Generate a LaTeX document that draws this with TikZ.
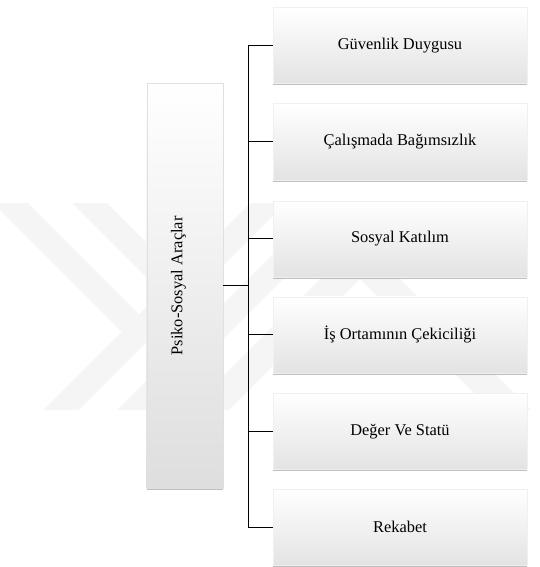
\documentclass[tikz,border=0pt]{standalone}
\usepackage{fontspec}
\setmainfont{Liberation Serif}
\usetikzlibrary{shadows}
\begin{document}
\begin{tikzpicture}[x=1pt,y=-1pt,
  itembox/.style={rectangle, minimum width=253.4pt, minimum height=76pt,
    inner sep=0pt, outer sep=0pt, top color=white, bottom color=black!11,
    draw=black!6,
    drop shadow={shadow xshift=0pt, shadow yshift=-2pt, fill=black!50, opacity=0.5},
    font=\fontsize{16.4}{19}\selectfont},
  mainbox/.style={rectangle, minimum width=76pt, minimum height=405pt,
    inner sep=0pt, outer sep=0pt, top color=white, bottom color=black!13,
    draw=black!12,
    drop shadow={shadow xshift=0pt, shadow yshift=-2pt, fill=black!50, opacity=0.5}},
  maintext/.style={rotate=90, inner sep=0pt, font=\fontsize{16.4}{19}\selectfont},
  link/.style={line width=1.1pt, draw=black},
  wm/.style={fill=black!4}
]
\useasboundingbox (0,0) rectangle (540,567);

% faint background watermark
\begin{scope}
  \clip (0,203) rectangle (540,410);
  \fill[wm] (-7,203) -- (28,203) -- (139.2,314.2) -- (121.7,331.7) -- cycle;
  \fill[wm] (250.4,203) -- (285.4,203) -- (78.4,410) -- (43.4,410) -- cycle;
  \fill[wm] (72,203) -- (107,203) -- (219,315) -- (198,329) -- cycle;
  \fill[wm] (324,203) -- (359,203) -- (152,410) -- (117,410) -- cycle;
  \fill[wm] (396,203) -- (436,203) -- (229,410) -- (189,410) -- cycle;
  \fill[wm] (284,203) -- (324,203) -- (531,410) -- (491,410) -- cycle;
\end{scope}

% main box
\node[mainbox] (L) at (184.7,285.8) {};
\node[maintext] (Lt) at (178.5,285.8) {Psiko-Sosyal Araçlar};

% item boxes
\node[itembox] (B1) at (400,45.3)  {Güvenlik Duygusu};
\node[itembox] (B2) at (400,141.7) {Çalışmada Bağımsızlık};
\node[itembox] (B3) at (400,238.7) {Sosyal Katılım};
\node[itembox] (B4) at (400,334.7) {İş Ortamının Çekiciliği};
\node[itembox] (B5) at (400,431.3) {Değer Ve Statü};
\node[itembox] (B6) at (400,527.3) {Rekabet};

% connectors
\coordinate (T) at (248.3,0);
\draw[link] (L.east) -- (L.east -| T);
\draw[link] (B1.west -| T) -- (B6.west -| T);
\foreach \i in {1,...,6}{
  \draw[link] (B\i.west -| T) -- (B\i.west);
}
\end{tikzpicture}
\end{document}
